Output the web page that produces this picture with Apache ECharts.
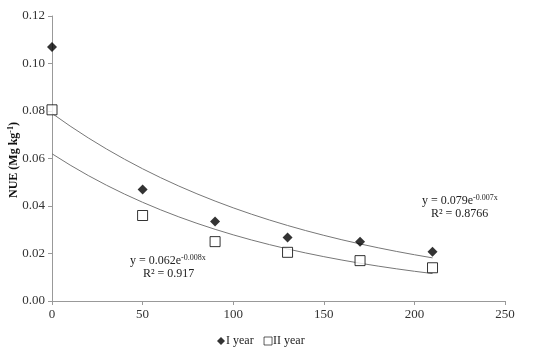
<!DOCTYPE html>
<html><head><meta charset="utf-8">
<script src="https://cdn.jsdelivr.net/npm/echarts@6/dist/echarts.min.js"></script>
<style>html,body{margin:0;padding:0;background:#fff}#c{width:550px;height:349px}</style>
</head><body><div id="c"></div>
<script>
const doses = [0, 50, 90, 130, 170, 210];
const year1 = [0.107, 0.047, 0.0335, 0.0267, 0.025, 0.0207];
const year2 = [0.0805, 0.036, 0.025, 0.0205, 0.017, 0.014];
const xTicks = [0, 50, 100, 150, 200, 250];
const yTicks = [0, 0.02, 0.04, 0.06, 0.08, 0.10, 0.12];
// trend lines shown on chart: y = a*e^(b x)
const trendUpper = [0.079, -0.007];
const trendLower = [0.062, -0.008];
const trendX = [0, 10, 20, 30, 40, 50, 60, 70, 80, 90, 100, 110, 120, 130, 140, 150, 160, 170, 180, 190, 200, 210];

function trend(p) { return trendX.map(x => [x, p[0] * Math.exp(p[1] * x)]); }

const font = 'Liberation Serif, Times New Roman, serif';
const chart = echarts.init(document.getElementById('c'), null, {renderer: 'canvas'});
chart.setOption({
  animation: false,
  textStyle: {fontFamily: font},
  grid: {left: 52, right: 45, top: 16, bottom: 48, containLabel: false, outerBoundsMode: 'none'},
  xAxis: {
    type: 'value', min: xTicks[0], max: xTicks[xTicks.length - 1], interval: 50,
    axisLine: {show: true, lineStyle: {color: '#999'}},
    axisTick: {show: true, inside: false, length: 4, lineStyle: {color: '#999'}},
    axisLabel: {color: '#333', fontSize: 13, fontFamily: font, margin: 7},
    splitLine: {show: false}
  },
  yAxis: {
    type: 'value', min: yTicks[0], max: yTicks[yTicks.length - 1], interval: 0.02,
    axisLine: {show: true, lineStyle: {color: '#999'}},
    axisTick: {show: true, length: 4, lineStyle: {color: '#999'}},
    axisLabel: {color: '#333', fontSize: 13, fontFamily: font, margin: 7, formatter: v => v.toFixed(2)},
    splitLine: {show: false}
  },
  legend: {
    bottom: 2, left: 217, padding: 0, itemWidth: 8, itemHeight: 8, itemGap: 10,
    textStyle: {fontFamily: font, fontSize: 12, color: '#222', padding: [0, 0, 0, -4]},
    data: [{name: 'I year', icon: 'diamond'}, {name: 'II year', icon: 'rect', itemStyle: {borderWidth: 0.8}}]
  },
  series: [
    {type: 'line', name: 'upper trend', data: trend(trendUpper), showSymbol: false, symbol: 'none',
     lineStyle: {color: '#777', width: 1}, z: 1, silent: true},
    {type: 'line', name: 'lower trend', data: trend(trendLower), showSymbol: false, symbol: 'none',
     lineStyle: {color: '#777', width: 1}, z: 1, silent: true},
    {type: 'scatter', name: 'I year', data: doses.map((d, i) => [d, year1[i]]),
     symbol: 'diamond', symbolSize: 10, itemStyle: {color: '#000'}, z: 3},
    {type: 'scatter', name: 'II year', data: doses.map((d, i) => [d, year2[i]]),
     symbol: 'rect', symbolSize: 10, itemStyle: {color: '#fff', borderColor: '#000', borderWidth: 1}, z: 2}
  ],
  graphic: [
    {type: 'text', x: 14, y: 160, rotation: Math.PI / 2, style: {
      text: '{b|NUE (Mg kg}{s|-1}{b|)}', align: 'center', verticalAlign: 'middle',
      rich: {
        b: {fontFamily: font, fontWeight: 'bold', fontSize: 12, fill: '#111'},
        s: {fontFamily: font, fontWeight: 'bold', fontSize: 8, fill: '#111', verticalAlign: 'top', padding: [0, 0, 6, 0]}
      }}},
    {type: 'text', left: 422, top: 194, style: {
      text: '{n|y = 0.079e}{s|-0.007x}', fontFamily: font,
      rich: {n: {fontSize: 12, fontFamily: font, fill: '#222'}, s: {fontSize: 8, fontFamily: font, fill: '#222', verticalAlign: 'top', padding: [0, 0, 5, 0]}}}},
    {type: 'text', left: 431, top: 208, style: {text: 'R² = 0.8766', fontSize: 12, fontFamily: font, fill: '#222'}},
    {type: 'text', left: 130, top: 254, style: {
      text: '{n|y = 0.062e}{s|-0.008x}', fontFamily: font,
      rich: {n: {fontSize: 12, fontFamily: font, fill: '#222'}, s: {fontSize: 8, fontFamily: font, fill: '#222', verticalAlign: 'top', padding: [0, 0, 5, 0]}}}},
    {type: 'text', left: 143, top: 268, style: {text: 'R² = 0.917', fontSize: 12, fontFamily: font, fill: '#222'}}
  ]
});
</script></body></html>
